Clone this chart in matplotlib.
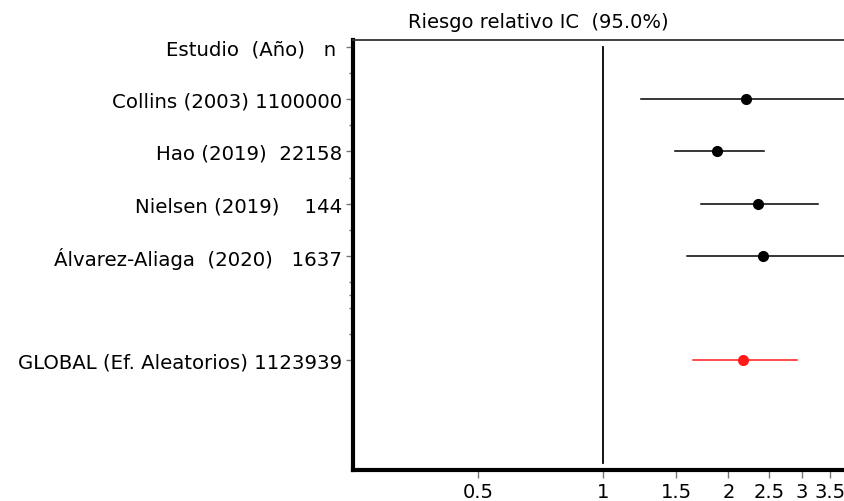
import numpy as np
import matplotlib.pyplot as plt

# Estudios incluidos en el metaanálisis
autores = ["Collins", "Hao", "Nielsen", "Álvarez-Aliaga"]
anios = ["2003", "2019", "2019", "2020"]
n_pac = ["1100000", "22158", "144", "1637"]
rr = [2.20, 1.88, 2.35, 2.42]
ic_inf = [1.23, 1.49, 1.72, 1.59]
ic_sup = [4.30, 2.44, 3.29, 3.90]

# Resultado global (efectos aleatorios)
n_global = "1123939"
rr_global = 2.17
ic_global = (1.64, 2.92)

xticks = [0.5, 1, 1.5, 2, 2.5, 3, 3.5]
xtick_labels = ["0.5", "1", "1.5", "2", "2.5", "3", "3.5"]

plt.rcParams['font.family'] = ['DejaVu Sans']

fig = plt.figure(figsize=(8.45, 5.02), dpi=100)
ax = fig.add_axes([0.418, 0.062, 0.582, 0.856])

y_est = np.arange(1, len(autores) + 1)
y_glob = 6

for y, m, lo, hi in zip(y_est, rr, ic_inf, ic_sup):
    ax.plot([lo, hi], [y, y], color='black', lw=1.1)
    ax.plot(m, y, marker='o', color='black', markersize=7)

ax.plot(list(ic_global), [y_glob, y_glob], color='#ff1a1a', lw=1.1)
ax.plot(rr_global, y_glob, marker='o', color='#ff1a1a', markersize=7)

# linea de no efecto
ax.plot([1, 1], [0, 7.98], color='black', lw=1.3)

ax.set_xscale('log')
ax.set_xlim(0.251, 3.81)
ax.set_ylim(8.12, -0.14)

ax.set_xticks(xticks)
ax.set_xticklabels(xtick_labels)
ax.xaxis.set_minor_locator(plt.NullLocator())

etiquetas = ["Estudio  (Año)   n ",
             "Collins (2003) " + n_pac[0],
             "Hao (2019)  " + n_pac[1],
             "Nielsen (2019)    " + n_pac[2],
             "Álvarez-Aliaga  (2020)   " + n_pac[3],
             "GLOBAL (Ef. Aleatorios) " + n_global]
ax.set_yticks([0] + list(y_est) + [y_glob])
ax.set_yticklabels(etiquetas)
ax.set_yticks([0.5, 1.5, 2.5, 3.5, 4.5, 4.75, 5, 5.5], minor=True)

ax.tick_params(axis='x', which='major', labelsize=14, color='#777777',
               length=6, width=1, pad=3)
ax.tick_params(axis='y', which='major', labelsize=14.2, color='#777777',
               length=5, width=1, pad=3)
ax.tick_params(axis='y', which='minor', color='#777777', length=3, width=1)

ax.spines['right'].set_visible(False)
ax.spines['left'].set_linewidth(3)
ax.spines['bottom'].set_linewidth(3)
ax.spines['top'].set_linewidth(1.3)
ax.spines['top'].set_color('#333333')

fig.text(538 / 845, 1 - 22 / 502, "Riesgo relativo IC  (95.0%)",
         ha='center', va='center', fontsize=14)

fig.savefig('out.png', dpi=100)
